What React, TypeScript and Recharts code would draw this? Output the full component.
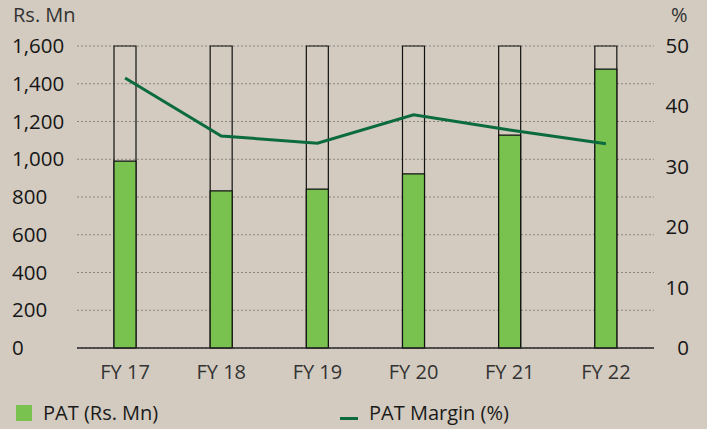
import React from "react";
import {
  ComposedChart,
  Bar,
  Line,
  XAxis,
  YAxis,
  CartesianGrid,
} from "recharts";

const years = ["FY 17", "FY 18", "FY 19", "FY 20", "FY 21", "FY 22"];
const patValues = [990, 832, 842, 922, 1128, 1478];
const marginValues = [44.7, 35.1, 33.9, 38.6, 36.1, 33.8];
const leftTicks = [0, 200, 400, 600, 800, 1000, 1200, 1400, 1600];
const rightTicks = [0, 10, 20, 30, 40, 50];

const data = years.map((year, i) => ({
  year,
  pat: patValues[i],
  margin: marginValues[i],
}));

const FONT = "'Open Sans', sans-serif";
const BAR_GREEN = "#79c24f";
const LINE_GREEN = "#0b6b3f";

const LeftTick = (props: any) => (
  <text
    x={12}
    y={props.y}
    dy={7}
    textAnchor="start"
    fontSize={20.5}
    fontFamily={FONT}
    fill="#161616"
  >
    {props.payload.value.toLocaleString("en-US")}
  </text>
);

const RightTick = (props: any) => (
  <text
    x={689}
    y={props.y}
    dy={7}
    textAnchor="end"
    fontSize={20.5}
    fontFamily={FONT}
    fill="#161616"
  >
    {props.payload.value}
  </text>
);

export default function App() {
  return (
    <div
      style={{
        position: "absolute",
        left: 0,
        top: 0,
        width: 707,
        height: 429,
        background: "#d3cbc0",
        fontFamily: FONT,
        overflow: "hidden",
      }}
    >
      <div style={{ position: "absolute", left: 13, top: 1, fontSize: 20, color: "#333" }}>
        Rs. Mn
      </div>
      <div style={{ position: "absolute", left: 671, top: 1, fontSize: 20, color: "#333" }}>
        %
      </div>
      <ComposedChart
        width={707}
        height={429}
        data={data}
        margin={{ top: 46, right: 0, bottom: 41, left: 0 }}
      >
        <CartesianGrid vertical={false} stroke="#8a8580" strokeDasharray="2 2" yAxisId="left" />
        <XAxis
          dataKey="year"
          height={40}
          tickLine={false}
          axisLine={{ stroke: "#2a2a2a", strokeWidth: 1.5 }}
          tick={{ fontSize: 20, fontFamily: FONT, fill: "#333" }}
          tickMargin={11}
        />
        <YAxis
          yAxisId="left"
          width={77}
          domain={[0, 1600]}
          ticks={leftTicks}
          axisLine={false}
          tickLine={false}
          tick={<LeftTick />}
        />
        <YAxis
          yAxisId="right"
          orientation="right"
          width={53}
          domain={[0, 50]}
          ticks={rightTicks}
          axisLine={false}
          tickLine={false}
          tick={<RightTick />}
        />
        <Bar
          yAxisId="left"
          dataKey="pat"
          barSize={22}
          fill={BAR_GREEN}
          stroke="#111"
          strokeWidth={1.2}
          background={{ fill: "none", stroke: "#111", strokeWidth: 1.2 }}
          isAnimationActive={false}
        />
        <Line
          yAxisId="right"
          dataKey="margin"
          type="linear"
          stroke={LINE_GREEN}
          strokeWidth={3}
          dot={false}
          isAnimationActive={false}
        />
      </ComposedChart>
      <div
        style={{
          position: "absolute",
          left: 16,
          top: 399,
          display: "flex",
          alignItems: "center",
          fontSize: 20,
          color: "#1a1a1a",
        }}
      >
        <div style={{ width: 16, height: 16, background: BAR_GREEN, marginRight: 11 }} />
        PAT (Rs. Mn)
      </div>
      <div
        style={{
          position: "absolute",
          left: 340,
          top: 399,
          display: "flex",
          alignItems: "center",
          fontSize: 20,
          color: "#1a1a1a",
        }}
      >
        <div
          style={{
            width: 18,
            height: 3,
            background: LINE_GREEN,
            marginRight: 11,
            marginTop: 12,
          }}
        />
        PAT Margin (%)
      </div>
    </div>
  );
}
